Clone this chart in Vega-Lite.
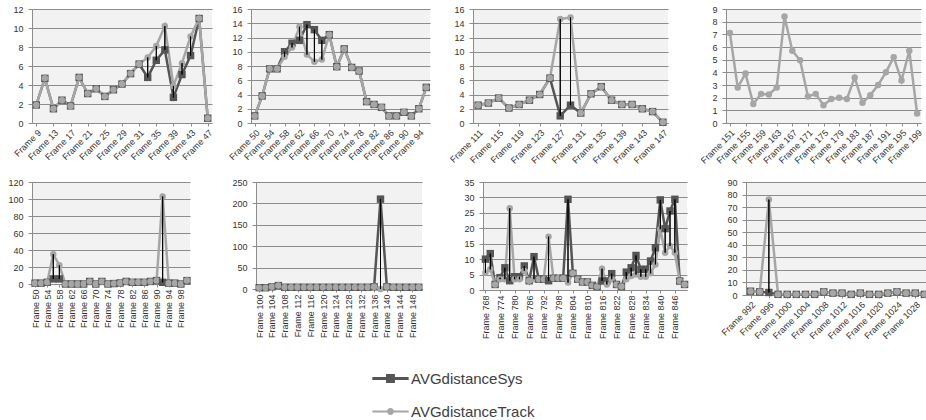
{
"$schema": "https://vega.github.io/schema/vega-lite/v6.json",
"background": "white",
"padding": {"left": 0, "top": 5, "right": 0, "bottom": 0},
"data": {"values": [
{"p":1,"f":"Frame 9","s":1.9,"t":1.9},{"p":1,"f":"Frame 11","s":4.7,"t":4.7},{"p":1,"f":"Frame 13","s":1.5,"t":1.5},{"p":1,"f":"Frame 15","s":2.4,"t":2.4},{"p":1,"f":"Frame 17","s":1.8,"t":1.8},{"p":1,"f":"Frame 19","s":4.8,"t":4.8},{"p":1,"f":"Frame 21","s":3.1,"t":3.1},{"p":1,"f":"Frame 23","s":3.6,"t":3.6},{"p":1,"f":"Frame 25","s":2.8,"t":2.8},{"p":1,"f":"Frame 27","s":3.5,"t":3.5},{"p":1,"f":"Frame 29","s":4.1,"t":4.1},{"p":1,"f":"Frame 30","s":5.2,"t":5.2},{"p":1,"f":"Frame 31","s":6.2,"t":6.2},{"p":1,"f":"Frame 33","s":4.8,"t":6.9},{"p":1,"f":"Frame 35","s":6.6,"t":8.1},{"p":1,"f":"Frame 37","s":7.7,"t":10.2},{"p":1,"f":"Frame 39","s":2.7,"t":3.9},{"p":1,"f":"Frame 41","s":5.1,"t":6.3},{"p":1,"f":"Frame 43","s":7.1,"t":9.1},{"p":1,"f":"Frame 45","s":11.0,"t":11.0},{"p":1,"f":"Frame 47","s":0.5,"t":0.5},
{"p":2,"f":"Frame 50","s":1.0,"t":1.0},{"p":2,"f":"Frame 52","s":3.8,"t":3.8},{"p":2,"f":"Frame 54","s":7.6,"t":7.6},{"p":2,"f":"Frame 56","s":7.6,"t":7.6},{"p":2,"f":"Frame 58","s":10.0,"t":9.3},{"p":2,"f":"Frame 60","s":11.2,"t":10.6},{"p":2,"f":"Frame 62","s":11.6,"t":13.5},{"p":2,"f":"Frame 64","s":13.8,"t":9.6},{"p":2,"f":"Frame 66","s":13.1,"t":8.6},{"p":2,"f":"Frame 68","s":11.6,"t":8.9},{"p":2,"f":"Frame 70","s":12.4,"t":12.4},{"p":2,"f":"Frame 72","s":7.9,"t":7.9},{"p":2,"f":"Frame 74","s":10.4,"t":10.4},{"p":2,"f":"Frame 76","s":7.8,"t":7.8},{"p":2,"f":"Frame 78","s":7.3,"t":7.3},{"p":2,"f":"Frame 80","s":3.0,"t":3.0},{"p":2,"f":"Frame 82","s":2.6,"t":2.6},{"p":2,"f":"Frame 84","s":2.2,"t":2.2},{"p":2,"f":"Frame 86","s":1.0,"t":1.0},{"p":2,"f":"Frame 88","s":1.0,"t":1.0},{"p":2,"f":"Frame 90","s":1.5,"t":1.5},{"p":2,"f":"Frame 92","s":1.0,"t":1.0},{"p":2,"f":"Frame 94","s":2.0,"t":2.0},{"p":2,"f":"Frame 96","s":5.0,"t":5.0},
{"p":3,"f":"Frame 111","s":2.5,"t":2.5},{"p":3,"f":"Frame 113","s":2.8,"t":2.8},{"p":3,"f":"Frame 115","s":3.5,"t":3.5},{"p":3,"f":"Frame 117","s":2.1,"t":2.1},{"p":3,"f":"Frame 119","s":2.6,"t":2.6},{"p":3,"f":"Frame 121","s":3.2,"t":3.2},{"p":3,"f":"Frame 123","s":4.0,"t":4.0},{"p":3,"f":"Frame 125","s":6.3,"t":6.3},{"p":3,"f":"Frame 127","s":1.0,"t":14.6},{"p":3,"f":"Frame 129","s":2.5,"t":14.8},{"p":3,"f":"Frame 131","s":1.4,"t":1.4},{"p":3,"f":"Frame 133","s":4.1,"t":4.1},{"p":3,"f":"Frame 135","s":5.1,"t":5.1},{"p":3,"f":"Frame 137","s":3.2,"t":3.2},{"p":3,"f":"Frame 139","s":2.6,"t":2.6},{"p":3,"f":"Frame 141","s":2.6,"t":2.6},{"p":3,"f":"Frame 143","s":2.0,"t":2.0},{"p":3,"f":"Frame 145","s":1.6,"t":1.6},{"p":3,"f":"Frame 147","s":0.1,"t":0.1},
{"p":4,"f":"Frame 151","t":7.1},{"p":4,"f":"Frame 153","t":2.8},{"p":4,"f":"Frame 155","t":3.9},{"p":4,"f":"Frame 157","t":1.5},{"p":4,"f":"Frame 159","t":2.3},{"p":4,"f":"Frame 161","t":2.25},{"p":4,"f":"Frame 163","t":2.8},{"p":4,"f":"Frame 165","t":8.4},{"p":4,"f":"Frame 167","t":5.7},{"p":4,"f":"Frame 169","t":4.95},{"p":4,"f":"Frame 171","t":2.1},{"p":4,"f":"Frame 173","t":2.3},{"p":4,"f":"Frame 175","t":1.4},{"p":4,"f":"Frame 177","t":1.9},{"p":4,"f":"Frame 179","t":2.0},{"p":4,"f":"Frame 181","t":1.9},{"p":4,"f":"Frame 183","t":3.6},{"p":4,"f":"Frame 185","t":1.6},{"p":4,"f":"Frame 187","t":2.2},{"p":4,"f":"Frame 189","t":3.0},{"p":4,"f":"Frame 191","t":4.0},{"p":4,"f":"Frame 193","t":5.2},{"p":4,"f":"Frame 195","t":3.35},{"p":4,"f":"Frame 197","t":5.7},{"p":4,"f":"Frame 199","t":0.75},
{"p":5,"f":"Frame 50","s":1,"t":1},{"p":5,"f":"Frame 52","s":1,"t":1},{"p":5,"f":"Frame 54","s":2,"t":2},{"p":5,"f":"Frame 56","s":6,"t":35},{"p":5,"f":"Frame 58","s":6,"t":22},{"p":5,"f":"Frame 60","s":0,"t":0},{"p":5,"f":"Frame 62","s":0,"t":0},{"p":5,"f":"Frame 64","s":0,"t":0},{"p":5,"f":"Frame 66","s":0,"t":0},{"p":5,"f":"Frame 68","s":3,"t":3},{"p":5,"f":"Frame 70","s":0,"t":0},{"p":5,"f":"Frame 72","s":3,"t":3},{"p":5,"f":"Frame 74","s":0,"t":0},{"p":5,"f":"Frame 76","s":0.5,"t":0.5},{"p":5,"f":"Frame 78","s":1.2,"t":1.2},{"p":5,"f":"Frame 80","s":3,"t":3},{"p":5,"f":"Frame 82","s":2,"t":2},{"p":5,"f":"Frame 84","s":2,"t":2},{"p":5,"f":"Frame 86","s":2,"t":2},{"p":5,"f":"Frame 88","s":3,"t":3},{"p":5,"f":"Frame 90","s":4,"t":4},{"p":5,"f":"Frame 92","s":2,"t":103},{"p":5,"f":"Frame 94","s":1,"t":1},{"p":5,"f":"Frame 96","s":1,"t":1},{"p":5,"f":"Frame 98","s":0,"t":0},{"p":5,"f":"Frame 100","s":4,"t":4},
{"p":6,"f":"Frame 100","s":3,"t":3},{"p":6,"f":"Frame 102","s":3,"t":3},{"p":6,"f":"Frame 104","s":5,"t":5},{"p":6,"f":"Frame 106","s":8,"t":8},{"p":6,"f":"Frame 108","s":4,"t":4},{"p":6,"f":"Frame 110","s":4,"t":4},{"p":6,"f":"Frame 112","s":4,"t":4},{"p":6,"f":"Frame 114","s":4,"t":4},{"p":6,"f":"Frame 116","s":4,"t":4},{"p":6,"f":"Frame 118","s":4,"t":4},{"p":6,"f":"Frame 120","s":4,"t":4},{"p":6,"f":"Frame 122","s":4,"t":4},{"p":6,"f":"Frame 124","s":4,"t":4},{"p":6,"f":"Frame 126","s":4,"t":4},{"p":6,"f":"Frame 128","s":4,"t":4},{"p":6,"f":"Frame 130","s":4,"t":4},{"p":6,"f":"Frame 132","s":4,"t":4},{"p":6,"f":"Frame 134","s":4,"t":4},{"p":6,"f":"Frame 136","s":5,"t":5},{"p":6,"f":"Frame 138","s":210,"t":0},{"p":6,"f":"Frame 140","s":5,"t":5},{"p":6,"f":"Frame 142","s":4,"t":4},{"p":6,"f":"Frame 144","s":4,"t":4},{"p":6,"f":"Frame 146","s":4,"t":4},{"p":6,"f":"Frame 148","s":4,"t":4},{"p":6,"f":"Frame 150","s":4,"t":4},
{"p":7,"f":"Frame 768","s":10,"t":5.6},{"p":7,"f":"Frame 770","s":11.8,"t":6.7},{"p":7,"f":"Frame 772","s":1.8,"t":1.8},{"p":7,"f":"Frame 774","s":4,"t":3.5},{"p":7,"f":"Frame 776","s":7.2,"t":3.5},{"p":7,"f":"Frame 778","s":3,"t":26.5},{"p":7,"f":"Frame 780","s":4.3,"t":3.5},{"p":7,"f":"Frame 782","s":4.3,"t":3.5},{"p":7,"f":"Frame 784","s":7.8,"t":6.2},{"p":7,"f":"Frame 786","s":3,"t":3},{"p":7,"f":"Frame 788","s":10.8,"t":3.5},{"p":7,"f":"Frame 790","s":3.5,"t":3.5},{"p":7,"f":"Frame 792","s":3.5,"t":3.5},{"p":7,"f":"Frame 794","s":3,"t":17.3},{"p":7,"f":"Frame 796","s":3.8,"t":3.8},{"p":7,"f":"Frame 798","s":3.8,"t":3.8},{"p":7,"f":"Frame 800","s":3.8,"t":3.8},{"p":7,"f":"Frame 802","s":29.4,"t":2.4},{"p":7,"f":"Frame 804","s":5.4,"t":5.4},{"p":7,"f":"Frame 806","s":3.5,"t":3.5},{"p":7,"f":"Frame 808","s":2.6,"t":2.6},{"p":7,"f":"Frame 810","s":2.6,"t":2.6},{"p":7,"f":"Frame 812","s":1.5,"t":1.5},{"p":7,"f":"Frame 814","s":1.1,"t":1.1},{"p":7,"f":"Frame 816","s":2.9,"t":6.9},{"p":7,"f":"Frame 818","s":2.9,"t":1.8},{"p":7,"f":"Frame 820","s":5.3,"t":3.5},{"p":7,"f":"Frame 822","s":1.8,"t":1.8},{"p":7,"f":"Frame 824","s":1.1,"t":1.1},{"p":7,"f":"Frame 826","s":5.8,"t":3.5},{"p":7,"f":"Frame 828","s":7.2,"t":4.5},{"p":7,"f":"Frame 830","s":11.2,"t":5},{"p":7,"f":"Frame 832","s":6.7,"t":4.3},{"p":7,"f":"Frame 834","s":6.7,"t":4.3},{"p":7,"f":"Frame 836","s":9.4,"t":5.4},{"p":7,"f":"Frame 838","s":13.7,"t":8.3},{"p":7,"f":"Frame 840","s":29.2,"t":19.7},{"p":7,"f":"Frame 842","s":19.9,"t":12.1},{"p":7,"f":"Frame 844","s":25.6,"t":14.3},{"p":7,"f":"Frame 846","s":29.4,"t":12.1},{"p":7,"f":"Frame 848","s":2.9,"t":2.9},{"p":7,"f":"Frame 850","s":1.8,"t":1.8},
{"p":8,"f":"Frame 992","s":3,"t":3},{"p":8,"f":"Frame 994","s":2.5,"t":2.5},{"p":8,"f":"Frame 996","s":2,"t":76},{"p":8,"f":"Frame 998","s":0.5,"t":0.5},{"p":8,"f":"Frame 1000","s":0.5,"t":0.5},{"p":8,"f":"Frame 1002","s":0.5,"t":0.5},{"p":8,"f":"Frame 1004","s":0.5,"t":0.5},{"p":8,"f":"Frame 1006","s":0.5,"t":0.5},{"p":8,"f":"Frame 1008","s":2.5,"t":2.5},{"p":8,"f":"Frame 1010","s":1.5,"t":1.5},{"p":8,"f":"Frame 1012","s":1.5,"t":1.5},{"p":8,"f":"Frame 1014","s":0.5,"t":0.5},{"p":8,"f":"Frame 1016","s":1.5,"t":1.5},{"p":8,"f":"Frame 1018","s":0.5,"t":0.5},{"p":8,"f":"Frame 1020","s":0.5,"t":0.5},{"p":8,"f":"Frame 1022","s":1.5,"t":1.5},{"p":8,"f":"Frame 1024","s":2.5,"t":2.5},{"p":8,"f":"Frame 1026","s":1.5,"t":1.5},{"p":8,"f":"Frame 1028","s":1.5,"t":1.5},{"p":8,"f":"Frame 1030","s":0.5,"t":0.5}
]},
"vconcat": [
{"hconcat": [
{"width":180,"height":114,"transform":[{"filter":"datum.p==1"},{"fold":["s","t"],"as":["series","v"]}],
 "encoding":{"x":{"field":"f","type":"ordinal","sort":null,"scale":{"type":"point","padding":0.5},"axis":{"title":null,"labelAngle":-45,"values":["Frame 9","Frame 13","Frame 17","Frame 21","Frame 25","Frame 29","Frame 31","Frame 35","Frame 39","Frame 43","Frame 47"],"minExtent":50,"maxExtent":50}},
  "y":{"field":"v","type":"quantitative","scale":{"domain":[0,12],"nice":false},"axis":{"title":null,"values":[0,2,4,6,8,10,12],"minExtent":29,"maxExtent":29}}},
 "layer":[
  {"mark":{"type":"line","strokeWidth":2.5},"encoding":{"color":{"field":"series","type":"nominal","scale":{"domain":["s","t"],"range":["#555555","#a6a6a6"]},
    "legend":{"title":null,"orient":"none","legendX":342,"legendY":353,"direction":"vertical","symbolSize":1089,"labelFontSize":15,"labelFont":"Liberation Sans","labelColor":"#404040","rowPadding":8,"padding":0,"labelOffset":4,"labelLimit":300,
     "labelExpr":"datum.label == 's' ? 'AVGdistanceSys' : 'AVGdistanceTrack'",
     "encode":{"symbols":{"update":{"shape":{"signal":"datum.value === 's' ? 'M-1.1,-0.09H1.1V0.09H-1.1Z M-0.27,-0.27H0.27V0.27H-0.27Z' : 'M-1.1,-0.065H1.1V0.065H-1.1Z M0.21,0A0.21,0.21 0 1 1 -0.21,0A0.21,0.21 0 1 1 0.21,0Z'"},"fill":{"signal":"datum.value === 's' ? '#555555' : '#a6a6a6'"},"strokeWidth":{"value":0},"opacity":{"value":1}}}}}}}},
  {"mark":{"type":"point","filled":true,"opacity":1},"encoding":{"color":{"field":"series","type":"nominal"},"shape":{"field":"series","type":"nominal","scale":{"domain":["s","t"],"range":["square","circle"]},"legend":null},"size":{"field":"series","type":"nominal","scale":{"domain":["s","t"],"range":[55,42]},"legend":null}}},
  {"mark":{"type":"rule","color":"black","strokeWidth":1},"encoding":{"y":{"field":"s","type":"quantitative"},"y2":{"field":"t"}}}
 ]},
{"width":179,"height":114,"transform":[{"filter":"datum.p==2"},{"fold":["s","t"],"as":["series","v"]}],
 "encoding":{"x":{"field":"f","type":"ordinal","sort":null,"scale":{"type":"point","padding":0.5},"axis":{"title":null,"labelAngle":-45,"values":["Frame 50","Frame 54","Frame 58","Frame 62","Frame 66","Frame 70","Frame 74","Frame 78","Frame 82","Frame 86","Frame 90","Frame 94"],"minExtent":50,"maxExtent":50}},
  "y":{"field":"v","type":"quantitative","scale":{"domain":[0,16],"nice":false},"axis":{"title":null,"values":[0,2,4,6,8,10,12,14,16],"minExtent":36,"maxExtent":36}}},
 "layer":[
  {"mark":{"type":"line","strokeWidth":2.5},"encoding":{"color":{"field":"series","type":"nominal","scale":{"domain":["s","t"],"range":["#555555","#a6a6a6"]}}}},
  {"mark":{"type":"point","filled":true,"opacity":1},"encoding":{"color":{"field":"series","type":"nominal"},"shape":{"field":"series","type":"nominal","scale":{"domain":["s","t"],"range":["square","circle"]},"legend":null},"size":{"field":"series","type":"nominal","scale":{"domain":["s","t"],"range":[55,42]},"legend":null}}},
  {"mark":{"type":"rule","color":"black","strokeWidth":1},"encoding":{"y":{"field":"s","type":"quantitative"},"y2":{"field":"t"}}}
 ]},
{"width":195,"height":114,"transform":[{"filter":"datum.p==3"},{"fold":["s","t"],"as":["series","v"]}],
 "encoding":{"x":{"field":"f","type":"ordinal","sort":null,"scale":{"type":"point","padding":0.5},"axis":{"title":null,"labelAngle":-45,"values":["Frame 111","Frame 115","Frame 119","Frame 123","Frame 127","Frame 131","Frame 135","Frame 139","Frame 143","Frame 147"],"minExtent":50,"maxExtent":50}},
  "y":{"field":"v","type":"quantitative","scale":{"domain":[0,16],"nice":false},"axis":{"title":null,"values":[0,2,4,6,8,10,12,14,16],"minExtent":41,"maxExtent":41}}},
 "layer":[
  {"mark":{"type":"line","strokeWidth":2.5},"encoding":{"color":{"field":"series","type":"nominal","scale":{"domain":["s","t"],"range":["#555555","#a6a6a6"]}}}},
  {"mark":{"type":"point","filled":true,"opacity":1},"encoding":{"color":{"field":"series","type":"nominal"},"shape":{"field":"series","type":"nominal","scale":{"domain":["s","t"],"range":["square","circle"]},"legend":null},"size":{"field":"series","type":"nominal","scale":{"domain":["s","t"],"range":[55,42]},"legend":null}}},
  {"mark":{"type":"rule","color":"black","strokeWidth":1},"encoding":{"y":{"field":"s","type":"quantitative"},"y2":{"field":"t"}}}
 ]},
{"width":195,"height":114,"transform":[{"filter":"datum.p==4"},{"fold":["s","t"],"as":["series","v"]}],
 "encoding":{"x":{"field":"f","type":"ordinal","sort":null,"scale":{"type":"point","padding":0.5},"axis":{"title":null,"labelAngle":-45,"values":["Frame 151","Frame 155","Frame 159","Frame 163","Frame 167","Frame 171","Frame 175","Frame 179","Frame 183","Frame 187","Frame 191","Frame 195","Frame 199"],"minExtent":50,"maxExtent":50}},
  "y":{"field":"v","type":"quantitative","scale":{"domain":[0,9],"nice":false},"axis":{"title":null,"values":[0,1,2,3,4,5,6,7,8,9],"minExtent":56,"maxExtent":56}}},
 "layer":[
  {"mark":{"type":"line","strokeWidth":2.5},"encoding":{"color":{"field":"series","type":"nominal","scale":{"domain":["s","t"],"range":["#555555","#a6a6a6"]}}}},
  {"mark":{"type":"point","filled":true,"opacity":1},"encoding":{"color":{"field":"series","type":"nominal"},"shape":{"field":"series","type":"nominal","scale":{"domain":["s","t"],"range":["square","circle"]},"legend":null},"size":{"field":"series","type":"nominal","scale":{"domain":["s","t"],"range":[55,42]},"legend":null}}},
  {"mark":{"type":"rule","color":"black","strokeWidth":1},"encoding":{"y":{"field":"s","type":"quantitative"},"y2":{"field":"t"}}}
 ]}
], "spacing": 0, "resolve": {"scale": {"color": "shared", "shape": "independent", "size": "independent"}, "legend": {"color": "shared"}}},
{"hconcat": [
{"width":158,"height":102,"transform":[{"filter":"datum.p==5"},{"fold":["s","t"],"as":["series","v"]}],
 "encoding":{"x":{"field":"f","type":"ordinal","sort":null,"scale":{"type":"point","padding":0.5},"axis":{"title":null,"labelAngle":-90,"values":["Frame 50","Frame 54","Frame 58","Frame 62","Frame 66","Frame 70","Frame 74","Frame 78","Frame 82","Frame 86","Frame 90","Frame 94","Frame 98"],"minExtent":55,"maxExtent":55}},
  "y":{"field":"v","type":"quantitative","scale":{"domain":[0,120],"nice":false},"axis":{"title":null,"values":[0,20,40,60,80,100,120],"minExtent":32,"maxExtent":32}}},
 "layer":[
  {"mark":{"type":"line","strokeWidth":2.5},"encoding":{"color":{"field":"series","type":"nominal","scale":{"domain":["s","t"],"range":["#555555","#a6a6a6"]}}}},
  {"mark":{"type":"point","filled":true,"opacity":1},"encoding":{"color":{"field":"series","type":"nominal"},"shape":{"field":"series","type":"nominal","scale":{"domain":["s","t"],"range":["square","circle"]},"legend":null},"size":{"field":"series","type":"nominal","scale":{"domain":["s","t"],"range":[55,42]},"legend":null}}},
  {"mark":{"type":"rule","color":"black","strokeWidth":1},"encoding":{"y":{"field":"s","type":"quantitative"},"y2":{"field":"t"}}}
 ]},
{"width":166,"height":107,"transform":[{"filter":"datum.p==6"},{"fold":["s","t"],"as":["series","v"]}],
 "encoding":{"x":{"field":"f","type":"ordinal","sort":null,"scale":{"type":"point","padding":0.5},"axis":{"title":null,"labelAngle":-90,"values":["Frame 100","Frame 104","Frame 108","Frame 112","Frame 116","Frame 120","Frame 124","Frame 128","Frame 132","Frame 136","Frame 140","Frame 144","Frame 148"],"minExtent":55,"maxExtent":55}},
  "y":{"field":"v","type":"quantitative","scale":{"domain":[0,250],"nice":false},"axis":{"title":null,"values":[0,50,100,150,200,250],"minExtent":64,"maxExtent":64}}},
 "layer":[
  {"mark":{"type":"line","strokeWidth":2.5},"encoding":{"color":{"field":"series","type":"nominal","scale":{"domain":["s","t"],"range":["#555555","#a6a6a6"]}}}},
  {"mark":{"type":"point","filled":true,"opacity":1},"encoding":{"color":{"field":"series","type":"nominal"},"shape":{"field":"series","type":"nominal","scale":{"domain":["s","t"],"range":["square","circle"]},"legend":null},"size":{"field":"series","type":"nominal","scale":{"domain":["s","t"],"range":[55,42]},"legend":null}}},
  {"mark":{"type":"rule","color":"black","strokeWidth":1},"encoding":{"y":{"field":"s","type":"quantitative"},"y2":{"field":"t"}}}
 ]},
{"width":204,"height":108,"transform":[{"filter":"datum.p==7"},{"fold":["s","t"],"as":["series","v"]}],
 "encoding":{"x":{"field":"f","type":"ordinal","sort":null,"scale":{"type":"point","padding":0.5},"axis":{"title":null,"labelAngle":-90,"values":["Frame 768","Frame 774","Frame 780","Frame 786","Frame 792","Frame 798","Frame 804","Frame 810","Frame 816","Frame 822","Frame 828","Frame 834","Frame 840","Frame 846"],"minExtent":55,"maxExtent":55}},
  "y":{"field":"v","type":"quantitative","scale":{"domain":[0,35],"nice":false},"axis":{"title":null,"values":[0,5,10,15,20,25,30,35],"minExtent":59,"maxExtent":59}}},
 "layer":[
  {"mark":{"type":"line","strokeWidth":2.5},"encoding":{"color":{"field":"series","type":"nominal","scale":{"domain":["s","t"],"range":["#555555","#a6a6a6"]}}}},
  {"mark":{"type":"point","filled":true,"opacity":1},"encoding":{"color":{"field":"series","type":"nominal"},"shape":{"field":"series","type":"nominal","scale":{"domain":["s","t"],"range":["square","circle"]},"legend":null},"size":{"field":"series","type":"nominal","scale":{"domain":["s","t"],"range":[55,42]},"legend":null}}},
  {"mark":{"type":"rule","color":"black","strokeWidth":1},"encoding":{"y":{"field":"s","type":"quantitative"},"y2":{"field":"t"}}}
 ]},
{"width":183,"height":113,"transform":[{"filter":"datum.p==8"},{"fold":["s","t"],"as":["series","v"]}],
 "encoding":{"x":{"field":"f","type":"ordinal","sort":null,"scale":{"type":"point","padding":0.5},"axis":{"title":null,"labelAngle":-45,"values":["Frame 992","Frame 996","Frame 1000","Frame 1004","Frame 1008","Frame 1012","Frame 1016","Frame 1020","Frame 1024","Frame 1028"],"minExtent":55,"maxExtent":55}},
  "y":{"field":"v","type":"quantitative","scale":{"domain":[0,90],"nice":false},"axis":{"title":null,"values":[0,10,20,30,40,50,60,70,80,90],"minExtent":56,"maxExtent":56}}},
 "layer":[
  {"mark":{"type":"line","strokeWidth":2.5},"encoding":{"color":{"field":"series","type":"nominal","scale":{"domain":["s","t"],"range":["#555555","#a6a6a6"]}}}},
  {"mark":{"type":"point","filled":true,"opacity":1},"encoding":{"color":{"field":"series","type":"nominal"},"shape":{"field":"series","type":"nominal","scale":{"domain":["s","t"],"range":["square","circle"]},"legend":null},"size":{"field":"series","type":"nominal","scale":{"domain":["s","t"],"range":[55,42]},"legend":null}}},
  {"mark":{"type":"rule","color":"black","strokeWidth":1},"encoding":{"y":{"field":"s","type":"quantitative"},"y2":{"field":"t"}}}
 ]}
], "spacing": 0, "resolve": {"scale": {"color": "shared", "shape": "independent", "size": "independent"}, "legend": {"color": "shared"}}}
],
"spacing": 5,
"resolve": {"scale": {"color": "shared", "shape": "independent", "size": "independent"}, "legend": {"color": "shared"}},
"config": {
 "view": {"fill": "#f2f2f2", "stroke": null},
 "axis": {"labelFont": "Liberation Sans", "labelFontSize": 9, "labelColor": "#333333", "domainColor": "#8c8c8c", "tickColor": "#8c8c8c", "gridColor": "#8c8c8c", "gridOpacity": 1, "labelOverlap": false},
 "axisX": {"grid": false, "tickSize": 3, "labelPadding": 2},
 "axisY": {"grid": true, "tickSize": 4, "labelPadding": 5}
}
}
